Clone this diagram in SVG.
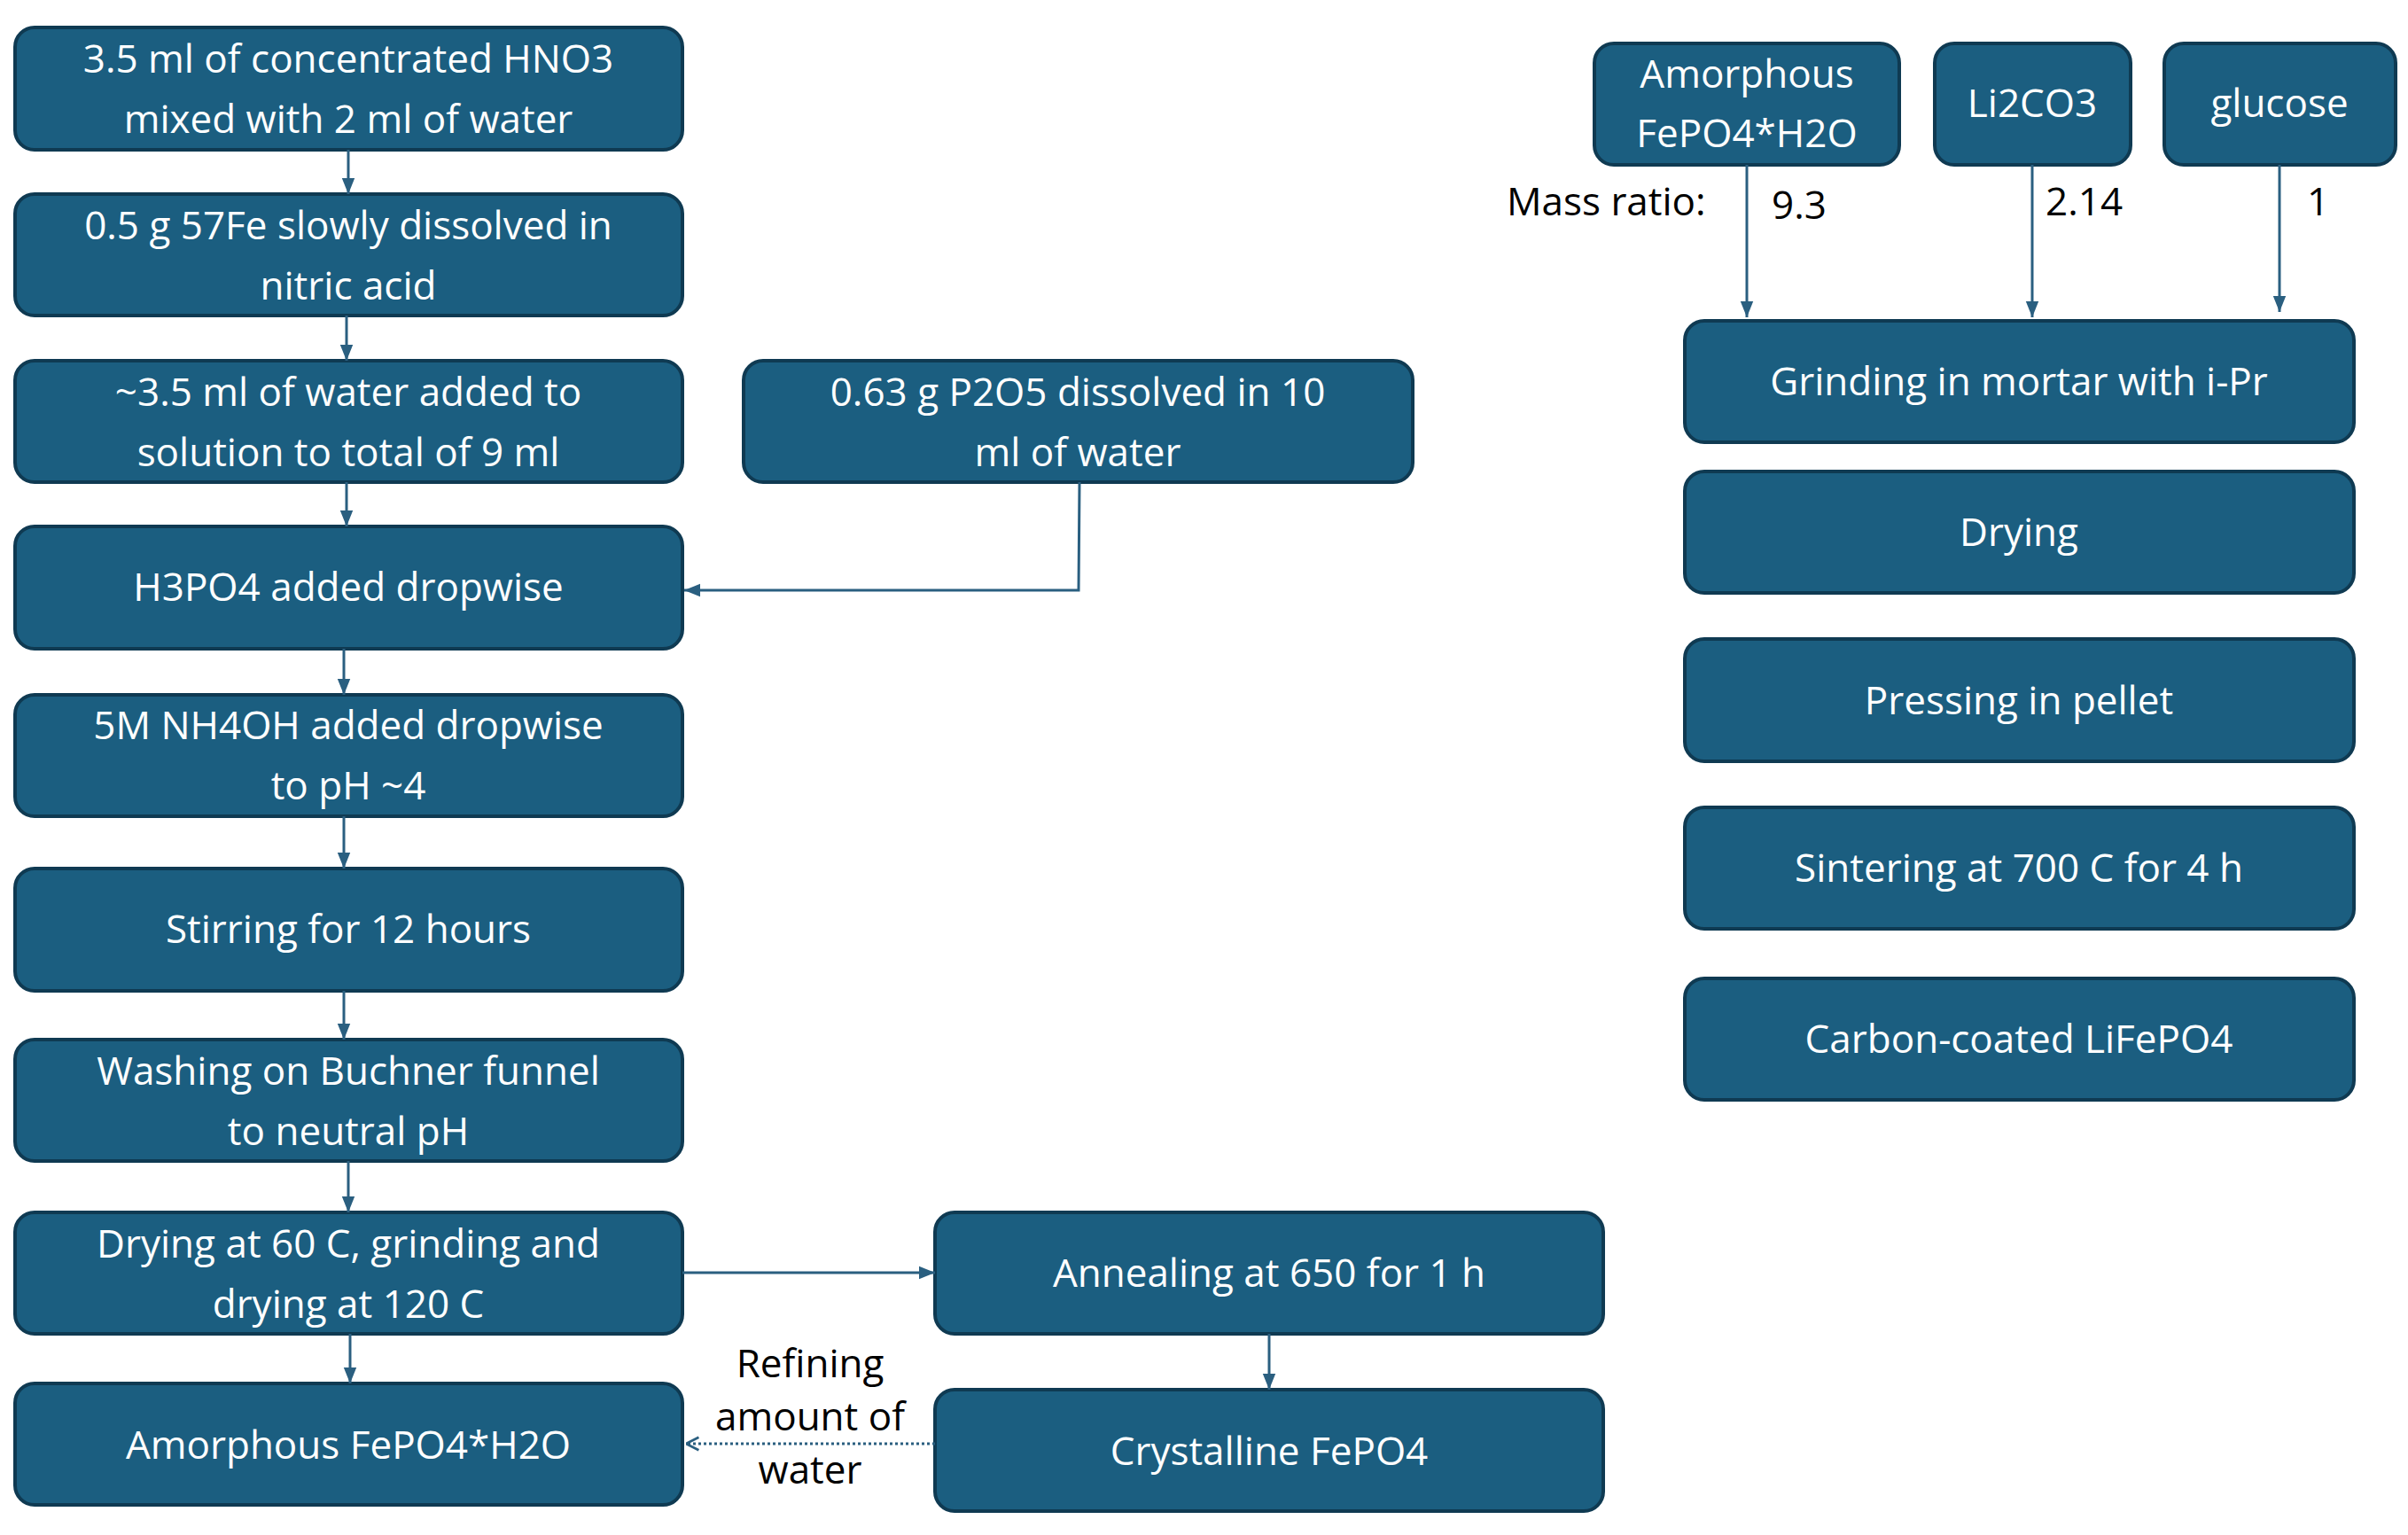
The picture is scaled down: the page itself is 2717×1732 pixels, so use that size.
<svg xmlns="http://www.w3.org/2000/svg" width="2717" height="1732" viewBox="0 0 2717 1732">
<style>
.b{fill:#1b5e80;stroke:#0f3a52;stroke-width:4}
.t{font-family:"Open Sans","Liberation Sans",sans-serif;font-size:44px;fill:#fff;text-anchor:middle}
.k{font-family:"Open Sans","Liberation Sans",sans-serif;font-size:44px;fill:#000}
.c{stroke:#2a5f80;stroke-width:3;fill:none}
</style>
<defs>
<marker id="a" viewBox="0 0 10 10" refX="10" refY="5" markerWidth="6" markerHeight="6" orient="auto"><path d="M0,1L10,5L0,9z" fill="#2a5f80"/></marker>
<marker id="o" viewBox="0 0 10 10" refX="10" refY="5" markerWidth="6" markerHeight="6" orient="auto"><path d="M2,1L10,5L2,9" fill="none" stroke="#2a5f80" stroke-width="1.5"/></marker>
</defs>
<rect width="2717" height="1732" fill="#fff"/>
<g id="n1"><rect class="b" x="17" y="31" width="753" height="138" rx="22"/><text class="t" x="393" y="82">3.5 ml of concentrated HNO3</text><text class="t" x="393" y="150">mixed with 2 ml of water</text></g>
<g id="n2"><rect class="b" x="17" y="219" width="753" height="137" rx="22"/><text class="t" x="393" y="270">0.5 g 57Fe slowly dissolved in</text><text class="t" x="393" y="338">nitric acid</text></g>
<g id="n3"><rect class="b" x="17" y="407" width="753" height="137" rx="22"/><text class="t" x="393" y="458">~3.5 ml of water added to</text><text class="t" x="393" y="526">solution to total of 9 ml</text></g>
<g id="n4"><rect class="b" x="17" y="594" width="753" height="138" rx="22"/><text class="t" x="393" y="678">H3PO4 added dropwise</text></g>
<g id="n5"><rect class="b" x="17" y="784" width="753" height="137" rx="22"/><text class="t" x="393" y="834">5M NH4OH added dropwise</text><text class="t" x="393" y="902">to pH ~4</text></g>
<g id="n6"><rect class="b" x="17" y="980" width="753" height="138" rx="22"/><text class="t" x="393" y="1064">Stirring for 12 hours</text></g>
<g id="n7"><rect class="b" x="17" y="1173" width="753" height="137" rx="22"/><text class="t" x="393" y="1224">Washing on Buchner funnel</text><text class="t" x="393" y="1292">to neutral pH</text></g>
<g id="n8"><rect class="b" x="17" y="1368" width="753" height="137" rx="22"/><text class="t" x="393" y="1419">Drying at 60 C, grinding and</text><text class="t" x="393" y="1487">drying at 120 C</text></g>
<g id="n9"><rect class="b" x="17" y="1561" width="753" height="137" rx="22"/><text class="t" x="393" y="1646">Amorphous FePO4*H2O</text></g>
<g id="p2o5"><rect class="b" x="839" y="407" width="755" height="137" rx="22"/><text class="t" x="1216" y="458">0.63 g P2O5 dissolved in 10</text><text class="t" x="1216" y="526">ml of water</text></g>
<g id="anneal"><rect class="b" x="1055" y="1368" width="754" height="137" rx="22"/><text class="t" x="1432" y="1452">Annealing at 650 for 1 h</text></g>
<g id="cryst"><rect class="b" x="1055" y="1568" width="754" height="137" rx="22"/><text class="t" x="1432" y="1653">Crystalline FePO4</text></g>
<g id="r1"><rect class="b" x="1799" y="49" width="344" height="137" rx="22"/><text class="t" x="1971" y="99">Amorphous</text><text class="t" x="1971" y="166">FePO4*H2O</text></g>
<g id="r2"><rect class="b" x="2183" y="49" width="221" height="137" rx="22"/><text class="t" x="2293" y="132">Li2CO3</text></g>
<g id="r3"><rect class="b" x="2442" y="49" width="261" height="137" rx="22"/><text class="t" x="2572" y="132">glucose</text></g>
<g id="grind"><rect class="b" x="1901" y="362" width="755" height="137" rx="22"/><text class="t" x="2278" y="446">Grinding in mortar with i-Pr</text></g>
<g id="dry"><rect class="b" x="1901" y="532" width="755" height="137" rx="22"/><text class="t" x="2278" y="616">Drying</text></g>
<g id="press"><rect class="b" x="1901" y="721" width="755" height="138" rx="22"/><text class="t" x="2278" y="806">Pressing in pellet</text></g>
<g id="sinter"><rect class="b" x="1901" y="911" width="755" height="137" rx="22"/><text class="t" x="2278" y="995">Sintering at 700 C for 4 h</text></g>
<g id="carbon"><rect class="b" x="1901" y="1104" width="755" height="137" rx="22"/><text class="t" x="2278" y="1188">Carbon-coated LiFePO4</text></g>
<g id="labels">
<text class="k" x="1700" y="243">Mass ratio:</text>
<text class="k" x="1999" y="247">9.3</text>
<text class="k" x="2308" y="243">2.14</text>
<text class="k" x="2603" y="243">1</text>
<text class="k" x="914" y="1554" text-anchor="middle" font-size="42">Refining</text>
<text class="k" x="914" y="1614" text-anchor="middle" font-size="42">amount of</text>
<text class="k" x="914" y="1674" text-anchor="middle" font-size="42">water</text>
</g>
<g id="connectors">
<line class="c" x1="393" y1="169" x2="393" y2="219" marker-end="url(#a)"/>
<line class="c" x1="391" y1="356" x2="391" y2="407" marker-end="url(#a)"/>
<line class="c" x1="391" y1="544" x2="391" y2="594" marker-end="url(#a)"/>
<line class="c" x1="388" y1="732" x2="388" y2="784" marker-end="url(#a)"/>
<line class="c" x1="388" y1="921" x2="388" y2="980" marker-end="url(#a)"/>
<line class="c" x1="388" y1="1118" x2="388" y2="1173" marker-end="url(#a)"/>
<line class="c" x1="393" y1="1310" x2="393" y2="1368" marker-end="url(#a)"/>
<line class="c" x1="395" y1="1505" x2="395" y2="1561" marker-end="url(#a)"/>
<polyline class="c" points="1218,544 1217,666 772,666" marker-end="url(#a)"/>
<line class="c" x1="770" y1="1436" x2="1055" y2="1436" marker-end="url(#a)"/>
<line class="c" x1="1432" y1="1505" x2="1432" y2="1568" marker-end="url(#a)"/>
<line class="c" x1="1055" y1="1629" x2="774" y2="1629" stroke-dasharray="3,3" marker-end="url(#o)"/>
<line class="c" x1="1971" y1="186" x2="1971" y2="358" marker-end="url(#a)"/>
<line class="c" x1="2293" y1="186" x2="2293" y2="358" marker-end="url(#a)"/>
<line class="c" x1="2572" y1="186" x2="2572" y2="352" marker-end="url(#a)"/>
</g>
</svg>
